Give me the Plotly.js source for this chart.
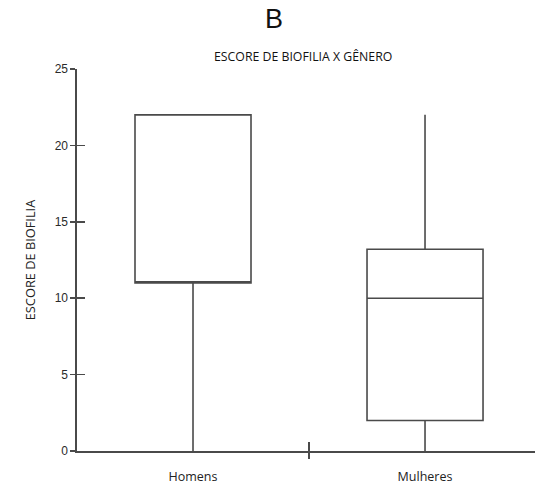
<!DOCTYPE html>
<html>
<head>
<meta charset="utf-8">
<script src="https://cdn.plot.ly/plotly-3.0.1.min.js"></script>
<style>html,body{margin:0;padding:0;background:#fff}#chart{width:535px;height:488px}</style>
</head>
<body>
<div id="chart"></div>
<script>
// Data
const categories = ['Homens', 'Mulheres'];
const categoryPos = [0, 1];
const lowerFence = [0, 0];
const q1 = [11, 2];
const median = [11, 10];
const q3 = [22, 13.2];
const upperFence = [22, 22];
const yTicks = [0, 5, 10, 15, 20, 25];
const separatorTick = [0.5];

const lineCol = '#4a4a4a';
const traces = [];
for (let i = 0; i < categories.length; i++) {
  traces.push({
    type: 'box',
    name: categories[i],
    x: [categoryPos[i]],
    q1: [q1[i]], median: [median[i]], q3: [q3[i]],
    lowerfence: [lowerFence[i]], upperfence: [upperFence[i]],
    width: 0.5,
    whiskerwidth: 0,
    fillcolor: '#ffffff',
    line: {color: lineCol, width: 1.6},
    showlegend: false,
    hoverinfo: 'skip'
  });
}
traces.push({type: 'scatter', x: [], y: [], xaxis: 'x2', yaxis: 'y', showlegend: false, hoverinfo: 'skip'});
traces.push({type: 'scatter', x: [], y: [], xaxis: 'x3', yaxis: 'y', showlegend: false, hoverinfo: 'skip'});
traces.push({type: 'scatter', x: [], y: [], xaxis: 'x', yaxis: 'y2', showlegend: false, hoverinfo: 'skip'});

const xr = [-0.5, 1.474];
const layout = {
  width: 535, height: 488,
  margin: {l: 77, r: 0, t: 69, b: 37},
  paper_bgcolor: '#fff', plot_bgcolor: '#fff',
  title: {text: 'B', x: 274/535, xanchor: 'center', y: 1 - 19/488, yanchor: 'middle',
          font: {family: 'Liberation Sans, Arial', size: 27, color: '#111'}},
  xaxis: {
    range: xr, tickvals: categoryPos, ticktext: categories, ticks: '',
    showline: true, linecolor: lineCol, linewidth: 1.6, showgrid: false, zeroline: false,
    ticklabelstandoff: 13,
    tickfont: {family: 'Open Sans', size: 12.5, color: '#222'}
  },
  xaxis2: {overlaying: 'x', anchor: 'y', side: 'bottom', range: xr, tickvals: separatorTick, ticktext: [''],
    ticks: 'inside', ticklen: 9, tickwidth: 1.6, tickcolor: lineCol, showline: false, showgrid: false, zeroline: false},
  xaxis3: {overlaying: 'x', anchor: 'y', side: 'bottom', range: xr, tickvals: separatorTick, ticktext: [''],
    ticks: 'outside', ticklen: 7, tickwidth: 1.6, tickcolor: lineCol, showline: false, showgrid: false, zeroline: false},
  yaxis: {
    range: [0, 25], tickvals: yTicks, ticks: 'outside', ticklen: 5, tickwidth: 1.6, tickcolor: lineCol,
    showline: true, linecolor: lineCol, linewidth: 1.6, showgrid: false, zeroline: false,
    tickfont: {family: 'Liberation Sans, Arial', size: 12, color: '#2a2a2a'},
    title: {text: 'ESCORE DE BIOFILIA', standoff: 16, font: {family: 'Open Sans', size: 12.8, color: '#222'}}
  },
  yaxis2: {overlaying: 'y', anchor: 'x', side: 'left', range: [0, 25], tickvals: yTicks, ticktext: yTicks.map(() => ''),
    ticks: 'inside', ticklen: 8, tickwidth: 1.6, tickcolor: lineCol, showline: false, showgrid: false, zeroline: false},
  annotations: [{
    text: 'ESCORE DE BIOFILIA X GÊNERO', xref: 'paper', yref: 'paper',
    x: (303 - 77) / 458, y: 1 + (69 - 56) / 382, xanchor: 'center', yanchor: 'middle', showarrow: false,
    font: {family: 'Open Sans', size: 12.3, color: '#111'}
  }]
};
Plotly.newPlot('chart', traces, layout, {staticPlot: true});
</script>
</body>
</html>
